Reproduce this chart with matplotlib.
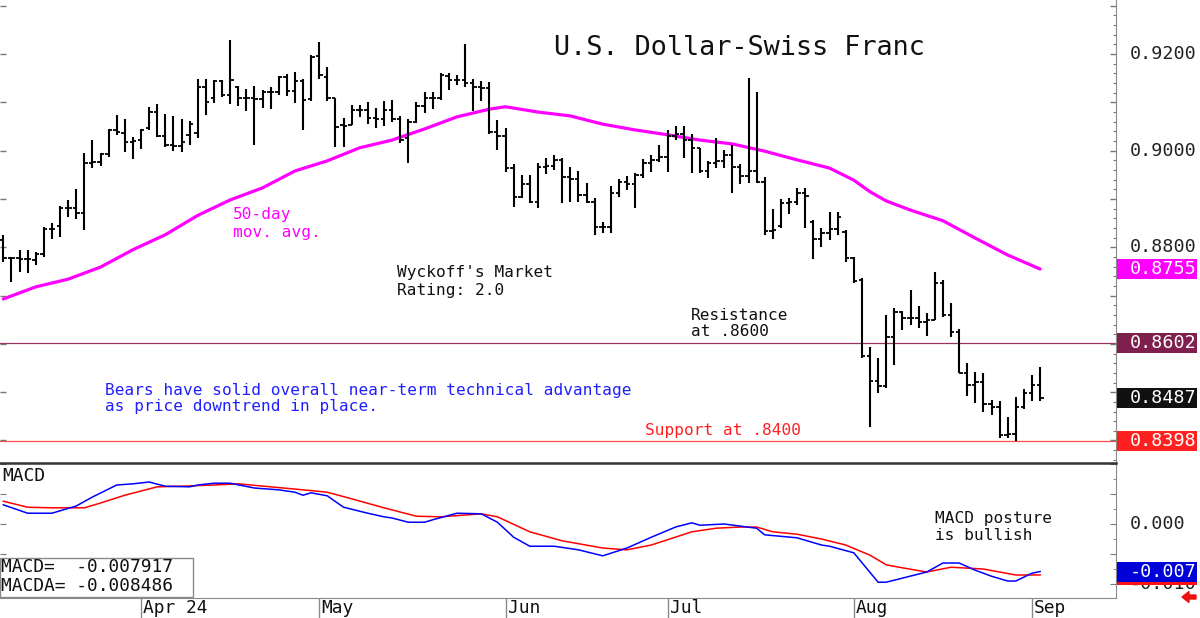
import matplotlib
matplotlib.use("Agg")
import matplotlib.pyplot as plt
import matplotlib.transforms as mtransforms
from matplotlib.patches import Rectangle, FancyArrow
from matplotlib.ticker import MultipleLocator
import pandas as pd

plt.rcParams["font.family"] = ["DejaVu Sans Mono", "DejaVu Sans"]

# ── Data ─────────────────────────────────────────────────────────────────────
# one bar per weekday, 2024-03-07 .. 2024-09-03
dates = pd.bdate_range("2024-03-07", "2024-09-03")

opens = [
    0.8815, 0.8778, 0.8778, 0.8776, 0.8774, 0.8786, 0.8838, 0.8844, 0.8881, 0.8881,
    0.8871, 0.8975, 0.8977, 0.8993, 0.9043, 0.9037, 0.9018, 0.9022, 0.9047, 0.9080,
    0.9030, 0.9012, 0.9010, 0.9033, 0.9037, 0.9132, 0.9109, 0.9144, 0.9115, 0.9132,
    0.9109, 0.9109, 0.9107, 0.9122, 0.9122, 0.9153, 0.9124, 0.9144, 0.9107, 0.9196,
    0.9153, 0.9109, 0.9053, 0.9053, 0.9084, 0.9084, 0.9068, 0.9066, 0.9084, 0.9066,
    0.9026, 0.9059, 0.9093, 0.9109, 0.9109, 0.9155, 0.9146, 0.9146, 0.9140, 0.9132,
    0.9130, 0.9039, 0.9030, 0.8964, 0.8904, 0.8931, 0.8894, 0.8966, 0.8968, 0.8981,
    0.8946, 0.8942, 0.8908, 0.8894, 0.8842, 0.8842, 0.8913, 0.8935, 0.8931, 0.8950,
    0.8975, 0.8981, 0.8987, 0.9030, 0.9035, 0.9022, 0.9006, 0.8958, 0.8975, 0.8979,
    0.8991, 0.8966, 0.8948, 0.8958, 0.8935, 0.8834, 0.8844, 0.8892, 0.8894, 0.8913,
    0.8853, 0.8817, 0.8830, 0.8838, 0.8832, 0.8778, 0.8732, 0.8575, 0.8523, 0.8513,
    0.8614, 0.8666, 0.8654, 0.8654, 0.8645, 0.8650, 0.8726, 0.8660, 0.8625, 0.8540,
    0.8515, 0.8521, 0.8476, 0.8470, 0.8412, 0.8414, 0.8470, 0.8499, 0.8515,
]
highs = [
    0.8826, 0.8780, 0.8795, 0.8795, 0.8790, 0.8842, 0.8850, 0.8886, 0.8898, 0.8921,
    0.8995, 0.9022, 0.8995, 0.9045, 0.9074, 0.9066, 0.9028, 0.9045, 0.9091, 0.9097,
    0.9076, 0.9072, 0.9066, 0.9062, 0.9149, 0.9149, 0.9146, 0.9146, 0.9229, 0.9134,
    0.9128, 0.9134, 0.9126, 0.9132, 0.9155, 0.9159, 0.9163, 0.9149, 0.9198, 0.9225,
    0.9173, 0.9109, 0.9068, 0.9095, 0.9095, 0.9101, 0.9088, 0.9103, 0.9105, 0.9072,
    0.9066, 0.9101, 0.9122, 0.9122, 0.9161, 0.9161, 0.9157, 0.9221, 0.9149, 0.9144,
    0.9142, 0.9064, 0.9047, 0.8973, 0.8950, 0.8950, 0.8975, 0.8985, 0.8991, 0.8985,
    0.8966, 0.8958, 0.8933, 0.8902, 0.8853, 0.8927, 0.8942, 0.8948, 0.8954, 0.8983,
    0.8991, 0.9012, 0.9043, 0.9051, 0.9051, 0.9035, 0.9006, 0.8979, 0.9026, 0.9002,
    0.9012, 0.8973, 0.9151, 0.9122, 0.8946, 0.8879, 0.8900, 0.8902, 0.8923, 0.8923,
    0.8857, 0.8840, 0.8873, 0.8873, 0.8836, 0.8780, 0.8737, 0.8594, 0.8571, 0.8660,
    0.8674, 0.8668, 0.8712, 0.8679, 0.8664, 0.8749, 0.8732, 0.8685, 0.8631, 0.8561,
    0.8542, 0.8540, 0.8484, 0.8482, 0.8449, 0.8490, 0.8507, 0.8536, 0.8552,
]
lows = [
    0.8770, 0.8728, 0.8749, 0.8747, 0.8763, 0.8780, 0.8817, 0.8821, 0.8863, 0.8859,
    0.8836, 0.8964, 0.8968, 0.8987, 0.9033, 0.8997, 0.8983, 0.9004, 0.9043, 0.9028,
    0.9008, 0.8999, 0.8997, 0.9012, 0.9026, 0.9074, 0.9099, 0.9111, 0.9097, 0.9093,
    0.9082, 0.9012, 0.9088, 0.9086, 0.9115, 0.9113, 0.9099, 0.9043, 0.9103, 0.9149,
    0.9103, 0.9008, 0.9008, 0.9053, 0.9070, 0.9055, 0.9047, 0.9051, 0.9059, 0.9016,
    0.8975, 0.9057, 0.9078, 0.9086, 0.9105, 0.9126, 0.9136, 0.9132, 0.9082, 0.9103,
    0.9035, 0.9002, 0.8956, 0.8884, 0.8902, 0.8892, 0.8881, 0.8952, 0.8960, 0.8892,
    0.8894, 0.8894, 0.8892, 0.8826, 0.8830, 0.8830, 0.8904, 0.8919, 0.8881, 0.8944,
    0.8956, 0.8977, 0.8956, 0.9022, 0.8985, 0.8954, 0.8954, 0.8944, 0.8964, 0.8964,
    0.8913, 0.8931, 0.8933, 0.8933, 0.8826, 0.8817, 0.8840, 0.8869, 0.8888, 0.8840,
    0.8776, 0.8801, 0.8815, 0.8826, 0.8770, 0.8726, 0.8571, 0.8428, 0.8499, 0.8509,
    0.8556, 0.8629, 0.8639, 0.8633, 0.8616, 0.8650, 0.8656, 0.8614, 0.8540, 0.8492,
    0.8478, 0.8459, 0.8453, 0.8405, 0.8405, 0.8398, 0.8465, 0.8482, 0.8482,
]
closes = [
    0.8778, 0.8778, 0.8776, 0.8776, 0.8786, 0.8838, 0.8838, 0.8881, 0.8881, 0.8871,
    0.8975, 0.8977, 0.8993, 0.9043, 0.9039, 0.9018, 0.9020, 0.9043, 0.9080, 0.9030,
    0.9012, 0.9010, 0.9018, 0.9055, 0.9132, 0.9101, 0.9144, 0.9115, 0.9146, 0.9109,
    0.9109, 0.9107, 0.9122, 0.9122, 0.9153, 0.9124, 0.9144, 0.9105, 0.9194, 0.9157,
    0.9109, 0.9049, 0.9051, 0.9084, 0.9084, 0.9068, 0.9066, 0.9084, 0.9066, 0.9022,
    0.9059, 0.9093, 0.9109, 0.9109, 0.9157, 0.9146, 0.9146, 0.9140, 0.9132, 0.9130,
    0.9039, 0.9030, 0.8964, 0.8904, 0.8931, 0.8894, 0.8966, 0.8968, 0.8981, 0.8946,
    0.8942, 0.8908, 0.8894, 0.8842, 0.8842, 0.8913, 0.8935, 0.8931, 0.8950, 0.8975,
    0.8981, 0.8987, 0.9030, 0.9035, 0.9022, 0.9006, 0.8958, 0.8975, 0.8979, 0.8991,
    0.8966, 0.8948, 0.8958, 0.8935, 0.8834, 0.8836, 0.8892, 0.8894, 0.8913, 0.8906,
    0.8817, 0.8830, 0.8838, 0.8863, 0.8778, 0.8730, 0.8575, 0.8523, 0.8513, 0.8614,
    0.8666, 0.8654, 0.8654, 0.8645, 0.8650, 0.8726, 0.8660, 0.8625, 0.8540, 0.8515,
    0.8521, 0.8476, 0.8470, 0.8412, 0.8414, 0.8470, 0.8499, 0.8515, 0.8487,
]

# 50-day moving average, sampled at bar numbers
ma_day = [0, 4, 8, 12, 16, 20, 24, 28, 32, 36, 40, 44, 48, 52, 56, 60, 62, 66,
          70, 74, 78, 82, 86, 90, 94, 98, 102, 105, 107, 109, 112, 116, 120, 124, 128]
ma_val = [0.8693, 0.8718, 0.8734, 0.8759, 0.8795, 0.8826, 0.8866, 0.8898, 0.8923,
          0.8958, 0.8979, 0.9006, 0.9022, 0.9045, 0.9070, 0.9086, 0.9091, 0.9080,
          0.9072, 0.9055, 0.9043, 0.9033, 0.9022, 0.9014, 0.8999, 0.8981, 0.8964,
          0.8939, 0.8915, 0.8896, 0.8877, 0.8855, 0.8819, 0.8784, 0.8755]

# MACD (blue) and its signal line MACDA (red)
macd_day = [0, 3, 6, 9, 11, 14, 16, 18, 20, 23, 24, 26, 28, 31, 34, 36, 37, 38, 40,
            42, 45, 47, 48, 50, 52, 53, 56, 59, 61, 63, 65, 68, 71, 74, 77, 80, 83,
            85, 86, 89, 93, 94, 98, 101, 102, 105, 108, 109, 114, 116, 118, 120,
            122, 124, 125, 127, 128]
macd_val = [0.0032, 0.0018, 0.0018, 0.0030, 0.0045, 0.0065, 0.0067, 0.0070, 0.0063,
            0.0062, 0.0065, 0.0068, 0.0068, 0.0060, 0.0057, 0.0053, 0.0048, 0.0052,
            0.0047, 0.0028, 0.0018, 0.0012, 0.0010, 0.0003, 0.0003, 0.0007, 0.0018,
            0.0017, 0.0003, -0.0022, -0.0037, -0.0037, -0.0043, -0.0053, -0.0040,
            -0.0022, -0.0005, 0.0002, -0.0002, 0.0000, -0.0007, -0.0018, -0.0023,
            -0.0035, -0.0037, -0.0048, -0.0097, -0.0097, -0.0080, -0.0065, -0.0065,
            -0.0077, -0.0087, -0.0095, -0.0095, -0.0082, -0.007917]
signal_day = [0, 3, 6, 10, 12, 15, 19, 22, 26, 29, 33, 37, 40, 43, 47, 51, 54, 59,
              61, 65, 69, 74, 77, 80, 85, 88, 91, 93, 95, 98, 101, 104, 107, 109,
              111, 114, 117, 121, 125, 128]
signal_val = [0.0038, 0.0028, 0.0027, 0.0027, 0.0035, 0.0048, 0.0062, 0.0063, 0.0065,
              0.0067, 0.0062, 0.0057, 0.0053, 0.0042, 0.0027, 0.0013, 0.0012, 0.0017,
              0.0012, -0.0013, -0.0028, -0.0040, -0.0043, -0.0035, -0.0013, -0.0007,
              -0.0005, -0.0005, -0.0013, -0.0017, -0.0025, -0.0035, -0.0052, -0.0068,
              -0.0073, -0.0080, -0.0072, -0.0075, -0.0085, -0.008486]

price_ticks = [0.92, 0.90, 0.88]
month_labels = ["Apr 24", "May", "Jun", "Jul", "Aug", "Sep"]
resistance = 0.8602
support = 0.8398
last_close = 0.8487
last_ma = 0.8755
macd_last = -0.007917
macda_last = -0.008486

# ── Layout (pixel grid of the 1200x618 original) ─────────────────────────────
W, H = 1200, 618
fig = plt.figure(figsize=(12, 6.18), dpi=100)
fig.patch.set_facecolor("white")
ax = fig.add_axes([0, 155 / H, 1116 / W, 463 / H])
axm = fig.add_axes([0, 20 / H, 1116 / W, 135 / H])

XLIM = (-0.41, 137.37)


def fx(px):
    return px / W


def fy(py):
    return 1 - py / H


# ── Price panel ──────────────────────────────────────────────────────────────
n = list(range(len(dates)))
ax.vlines(n, lows, highs, color="black", lw=1.5, zorder=3)
ax.hlines(opens, [i - 0.42 for i in n], n, color="black", lw=1.3, zorder=3)
ax.hlines(closes, n, [i + 0.42 for i in n], color="black", lw=1.3, zorder=3)
ax.plot(ma_day, ma_val, color="#ff00ff", lw=2.3, zorder=2, solid_capstyle="round")
ax.axhline(resistance, color="#9c3060", lw=0.9, zorder=1)
ax.axhline(support, color="#ff4a4a", lw=0.9, zorder=1)

ax.set_xlim(*XLIM)
ax.set_ylim(0.83534, 0.9312)
for side in ["top", "left", "bottom"]:
    ax.spines[side].set_visible(False)
ax.spines["right"].set_color("#8a8a8a")
ax.yaxis.set_major_locator(MultipleLocator(0.01))
ax.yaxis.set_minor_locator(MultipleLocator(0.002))
ax.tick_params(axis="y", which="both", left=True, right=True, labelleft=False,
               labelright=False, direction="in", color="#777777")
ax.tick_params(axis="y", which="major", length=4, width=1)
ax.tick_params(axis="y", which="minor", length=2.5, width=0.8, left=False)
ax.tick_params(axis="x", bottom=False, labelbottom=False)

# ── MACD panel ───────────────────────────────────────────────────────────────
axm.plot(signal_day, signal_val, color="#ff0000", lw=1.1)
axm.plot(macd_day, macd_val, color="#0000ff", lw=1.1)
axm.set_xlim(*XLIM)
axm.set_ylim(-0.01233, 0.01017)
axm.spines["left"].set_visible(False)
axm.spines["top"].set_color("#333333")
axm.spines["top"].set_linewidth(1.8)
axm.spines["bottom"].set_color("#8a8a8a")
axm.spines["right"].set_color("#8a8a8a")
axm.yaxis.set_major_locator(MultipleLocator(0.005))
axm.yaxis.set_minor_locator(MultipleLocator(0.0025))
axm.tick_params(axis="y", which="both", left=True, right=True, labelleft=False,
                labelright=False, direction="in", color="#777777")
axm.tick_params(axis="y", which="major", length=4)
axm.tick_params(axis="y", which="minor", length=2.5, left=False)

month_pos = [i for i in range(1, len(dates)) if dates[i].month != dates[i - 1].month]
axm.set_xticks(month_pos)
axm.tick_params(axis="x", which="major", direction="out", length=15, width=1,
                color="#8a8a8a", labelbottom=False)
for pos, lab in zip(month_pos, month_labels):
    axm.annotate(lab, xy=(pos, 0), xycoords=("data", "axes fraction"),
                 xytext=(1.5, -0.5), textcoords="offset points",
                 ha="left", va="top", fontsize=12.9, color="#111111")

# ── Right-hand value labels ──────────────────────────────────────────────────
tr_p = mtransforms.blended_transform_factory(fig.transFigure, ax.transData)
tr_m = mtransforms.blended_transform_factory(fig.transFigure, axm.transData)

for v in price_ticks:
    ax.text(fx(1130), v, f"{v:.4f}", transform=tr_p, ha="left", va="center",
            fontsize=13.2, color="#222222", clip_on=False)
axm.text(fx(1130), 0.0, "0.000", transform=tr_m, ha="left", va="center",
         fontsize=13.2, color="#222222", clip_on=False)
axm.text(fx(1130), -0.010, "-0.010", transform=tr_m, ha="left", va="center",
         fontsize=13.2, color="#222222", clip_on=False)


def value_box(axis, tr, v, label, color, h):
    axis.add_patch(Rectangle((fx(1117), v - h / 2), fx(80), h, transform=tr,
                             facecolor=color, edgecolor="none", clip_on=False, zorder=5))
    axis.text(fx(1130), v, label, transform=tr, ha="left", va="center",
              fontsize=13.2, color="white", clip_on=False, zorder=6)


hp = 20 * (0.9312 - 0.83534) / 463
hm = 20 * (0.01017 + 0.01233) / 135
value_box(ax, tr_p, last_ma, f"{last_ma:.4f}", "#ff00ff", hp)
value_box(ax, tr_p, resistance, f"{resistance:.4f}", "#7e1f4e", hp)
value_box(ax, tr_p, last_close, f"{last_close:.4f}", "#111111", hp)
value_box(ax, tr_p, support, f"{support:.4f}", "#ff2020", hp)
value_box(axm, tr_m, macda_last, "", "#ff1010", hm)
value_box(axm, tr_m, macd_last, f"{macd_last:.4f}"[:6], "#0000d8", hm)

# ── Annotations ──────────────────────────────────────────────────────────────
fig.text(fx(739), fy(48), "U.S. Dollar-Swiss Franc", ha="center", va="center",
         fontsize=19.4, color="#111111")


def note(x, y, s, color="#111111", size=11.6):
    fig.text(fx(x), fy(y), s, ha="left", va="center", fontsize=size, color=color)


note(233, 215, "50-day", "#ff00ff")
note(233, 233, "mov. avg.", "#ff00ff")
note(397, 272, "Wyckoff's Market")
note(397, 290, "Rating: 2.0")
note(691, 315, "Resistance")
note(691, 331, "at .8600")
note(105, 390, "Bears have solid overall near-term technical advantage", "#2020ff")
note(105, 407, "as price downtrend in place.", "#2020ff")
note(645, 431, "Support at .8400", "#ff2020")
note(2, 476, "MACD", size=12.9)
note(935, 519, "MACD posture")
note(935, 535, "is bullish")

# MACD readout box
fig.add_artist(Rectangle((0, fy(597)), fx(193), 39 / H, transform=fig.transFigure,
                         facecolor="white", edgecolor="#8a8a8a", lw=1, zorder=5))
fig.text(fx(1), fy(567), f"MACD=  {macd_last:.6f}", ha="left", va="center",
         fontsize=12.9, color="#111111", zorder=6)
fig.text(fx(1), fy(586), f"MACDA= {macda_last:.6f}", ha="left", va="center",
         fontsize=12.9, color="#111111", zorder=6)

# little red arrow, bottom right
fig.add_artist(FancyArrow(1196, H - 597, -14, 0, width=4, head_width=11,
                          head_length=7, length_includes_head=True,
                          transform=mtransforms.IdentityTransform(),
                          color="#ee1111", zorder=6))

fig.savefig("out.png", dpi=100)
